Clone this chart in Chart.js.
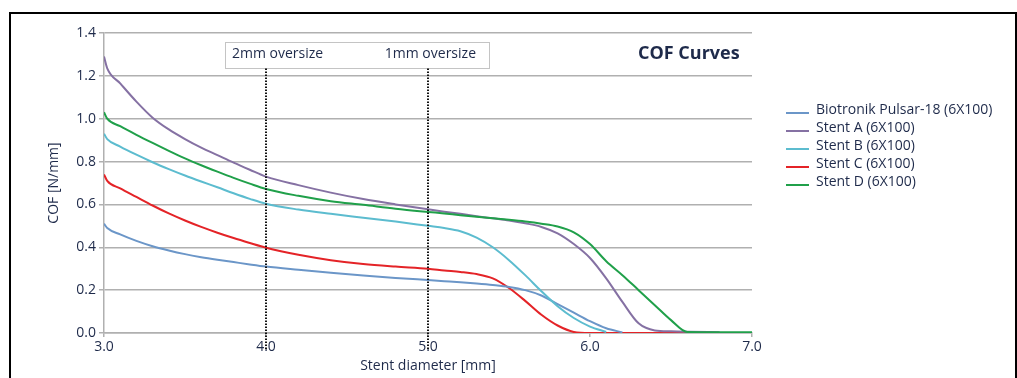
<!DOCTYPE html>
<html><head><meta charset="utf-8">
<script src="https://cdn.jsdelivr.net/npm/chart.js@4.4.0/dist/chart.umd.min.js"></script>
<style>
html,body{margin:0;padding:0;background:#fff;overflow:hidden}
#wrap{position:relative;width:1017px;height:378px}
#frame{position:absolute;left:9px;top:12px;width:1008px;height:420px;border:2px solid #000;box-sizing:border-box;pointer-events:none}
canvas{position:absolute;left:0;top:0}
</style></head><body>
<div id="wrap"><canvas id="c" width="1017" height="378"></canvas><div id="frame"></div></div>
<script>
const diameters = [3.0,3.02,3.1,3.2,3.3,3.4,3.5,3.6,3.7,3.8,3.9,4.0,4.2,4.4,4.6,4.8,5.0,5.1,5.2,5.3,5.4,5.5,5.6,5.7,5.8,5.9,6.0,6.1,6.2,6.3,6.4,6.5,6.6,6.8,7.0];
const pulsar = [0.51,0.49,0.46,0.43,0.405,0.385,0.368,0.354,0.342,0.331,0.32,0.31,0.295,0.281,0.268,0.257,0.247,0.242,0.237,0.231,0.224,0.215,0.2,0.175,0.135,0.095,0.055,0.022,0.003,null,null,null,null,null,null];
const stentA = [1.29,1.235,1.165,1.08,1.005,0.95,0.905,0.865,0.83,0.795,0.762,0.73,0.69,0.655,0.625,0.60,0.577,0.566,0.556,0.545,0.535,0.525,0.512,0.495,0.465,0.415,0.35,0.255,0.145,0.045,0.012,0.008,0.006,0.004,null];
const stentB = [0.93,0.905,0.87,0.832,0.797,0.765,0.735,0.707,0.68,0.652,0.626,0.603,0.576,0.556,0.538,0.52,0.50,0.49,0.475,0.445,0.40,0.34,0.27,0.195,0.125,0.07,0.03,0.005,null,null,null,null,null,null,null];
const stentC = [0.74,0.71,0.675,0.635,0.595,0.558,0.525,0.495,0.468,0.443,0.42,0.398,0.365,0.34,0.322,0.31,0.30,0.292,0.285,0.275,0.255,0.21,0.15,0.085,0.035,0.005,0,0,0,0,0,0,0,null,null];
const stentD = [1.03,1.0,0.965,0.925,0.887,0.85,0.815,0.783,0.753,0.724,0.697,0.672,0.64,0.615,0.598,0.58,0.565,0.558,0.55,0.543,0.535,0.528,0.52,0.51,0.497,0.47,0.415,0.335,0.27,0.2,0.13,0.06,0.005,0.004,0.004];
const seriesLabels = ['Biotronik Pulsar-18 (6X100)','Stent A (6X100)','Stent B (6X100)','Stent C (6X100)','Stent D (6X100)'];
const seriesColors = ['#6b96c8','#8571a3','#5cbccf','#e42327','#20a04a'];
const oversizeX = [4.0, 5.0];
const oversizeLabels = ['2mm oversize','1mm oversize'];
const chartTitle = 'COF Curves';
const xTitle = 'Stent diameter [mm]';
const yTitle = 'COF [N/mm]';

const TXT = '#1e2a4a';
const FONT = "'Open Sans', sans-serif";
const allSeries = [pulsar, stentA, stentB, stentC, stentD];
const drawOrder = [3, 2, 1, 4, 0];

const datasets = allSeries.map((s, i) => ({
  label: seriesLabels[i],
  data: diameters.map((x, j) => ({x, y: s[j]})),
  borderColor: seriesColors[i],
  backgroundColor: seriesColors[i],
  borderWidth: 2,
  pointRadius: 0,
  cubicInterpolationMode: 'monotone',
  spanGaps: false,
  order: drawOrder[i]
}));

const overlay = {
  id: 'overlay',
  afterDatasetsDraw(chart) {
    const ctx = chart.ctx;
    const xs = chart.scales.x, ys = chart.scales.y;
    const p0 = xs.getPixelForValue(oversizeX[0]);
    const p1 = xs.getPixelForValue(oversizeX[1]);
    ctx.save();
    ctx.fillStyle = '#fff';
    ctx.strokeStyle = '#c4c4c4';
    ctx.lineWidth = 1;
    const bx = Math.round(p0 - 41) + 0.5, bw = Math.round(p1 - p0 + 102), by = 42.5, bh = 26;
    ctx.fillRect(bx, by, bw, bh);
    ctx.strokeRect(bx, by, bw, bh);
    ctx.fillStyle = TXT;
    ctx.font = "14px " + FONT;
    ctx.textBaseline = 'middle';
    ctx.textAlign = 'left';
    ctx.fillText(oversizeLabels[0], p0 - 34, 54);
    ctx.textAlign = 'right';
    ctx.fillText(oversizeLabels[1], p1 + 48, 54);
    ctx.strokeStyle = '#111';
    ctx.lineWidth = 2;
    ctx.setLineDash([1.5, 1.5]);
    oversizeX.forEach(v => {
      const px = Math.round(xs.getPixelForValue(v));
      ctx.beginPath();
      ctx.moveTo(px, by + bh);
      ctx.lineTo(px, ys.bottom + 17);
      ctx.stroke();
    });
    ctx.setLineDash([]);
    ctx.fillStyle = TXT;
    ctx.font = "bold 18px " + FONT;
    ctx.textAlign = 'left';
    ctx.textBaseline = 'middle';
    ctx.fillText(chartTitle, 638, 54);
    ctx.font = "14px " + FONT;
    chart.data.datasets.forEach((d, i) => {
      const y = 110 + i * 18;
      ctx.strokeStyle = d.borderColor;
      ctx.lineWidth = 2;
      ctx.beginPath();
      ctx.moveTo(786, y + 3);
      ctx.lineTo(809, y + 3);
      ctx.stroke();
      ctx.fillStyle = TXT;
      ctx.fillText(d.label, 816, y);
    });
    ctx.restore();
  }
};

new Chart(document.getElementById('c'), {
  type: 'line',
  data: { datasets },
  plugins: [overlay],
  options: {
    responsive: false,
    animation: false,
    events: [],
    layout: { padding: { left: 0, top: 33, right: 265, bottom: 0 } },
    plugins: { legend: { display: false }, title: { display: false }, tooltip: { enabled: false } },
    scales: {
      x: {
        type: 'linear', min: 3, max: 7,
        afterFit(s) { s.height = 45; },
        ticks: { stepSize: 1, color: TXT, font: { family: FONT, size: 14 }, padding: 2, maxRotation: 0,
                 callback: v => v.toFixed(1) },
        grid: { drawOnChartArea: false, drawTicks: true, tickLength: 4, color: '#b0b0b0', lineWidth: 1.5 },
        border: { color: '#b0b0b0', width: 1.5 },
        title: { display: true, text: xTitle, color: TXT, font: { family: FONT, size: 14 }, padding: { top: 0, bottom: 4 } }
      },
      y: {
        min: 0, max: 1.4,
        afterFit(s) { s.width = 104; },
        ticks: { stepSize: 0.2, color: TXT, font: { family: FONT, size: 14 }, padding: 3,
                 callback: v => v.toFixed(1) },
        grid: { color: '#b0b0b0', lineWidth: 1.5, tickLength: 5 },
        border: { color: '#b0b0b0', width: 1.5 },
        title: { display: true, text: yTitle, color: TXT, font: { family: FONT, size: 14 }, padding: { top: 46, bottom: 0 } }
      }
    }
  }
});
</script>
</body></html>
